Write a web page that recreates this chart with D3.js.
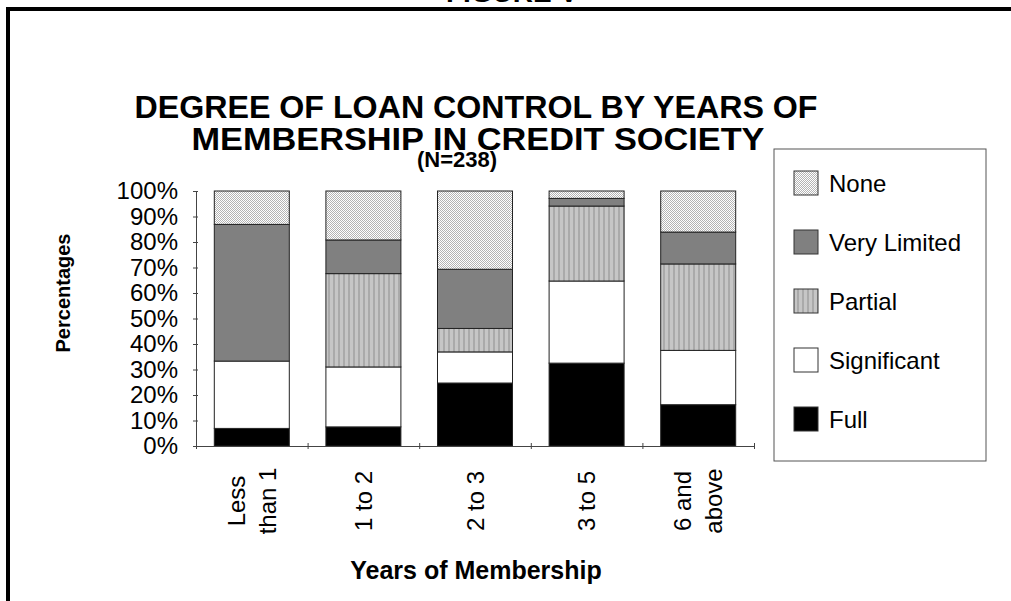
<!DOCTYPE html>
<html>
<head>
<meta charset="utf-8">
<script src="https://cdn.jsdelivr.net/npm/d3@7"></script>
<style>
  body { margin: 0; background: #fff; }
  text { font-family: Arial, "Liberation Sans", sans-serif; }
</style>
</head>
<body>
<svg id="chart" width="1011" height="601"></svg>
<script>

var categories = [["Less", "than 1"], ["1 to 2"], ["2 to 3"], ["3 to 5"], ["6 and", "above"]];
var seriesNames = ["Full", "Significant", "Partial", "Very Limited", "None"];

// percent values, bottom to top
var full        = [6.9, 7.5, 24.7, 32.5, 16.2];
var significant = [26.4, 23.5, 12.2, 32.2, 21.3];
var partial     = [0, 36.6, 9.2, 29.4, 33.9];
var veryLimited = [53.6, 13.2, 23.2, 3.0, 12.5];
var none        = [13.1, 19.2, 30.7, 2.9, 16.1];

var yTicks = [0, 0.1, 0.2, 0.3, 0.4, 0.5, 0.6, 0.7, 0.8, 0.9, 1];

var svg = d3.select("#chart");

// patterns for the grey fills
var defs = svg.append("defs");
var dots = defs.append("pattern")
            .attr("id", "pat-none")
            .attr("width", 2).attr("height", 2)
            .attr("patternUnits", "userSpaceOnUse");
dots.append("rect").attr("width", 2).attr("height", 2).attr("fill", "#fff");
dots.append("rect").attr("x", 0).attr("y", 0).attr("width", 1).attr("height", 1).attr("fill", "#b4b4b4");
dots.append("rect").attr("x", 1).attr("y", 1).attr("width", 1).attr("height", 1).attr("fill", "#b4b4b4");

var stripes = defs.append("pattern")
            .attr("id", "pat-partial")
            .attr("width", 5).attr("height", 4)
            .attr("patternUnits", "userSpaceOnUse");
stripes.append("rect").attr("width", 5).attr("height", 4).attr("fill", "#c6c6c6");
stripes.append("rect").attr("x", 3).attr("width", 2).attr("height", 4).attr("fill", "#aaaaaa");

var fills = {
    "Full": "#000",
    "Significant": "#fff",
    "Partial": "url(#pat-partial)",
    "Very Limited": "#808080",
    "None": "url(#pat-none)"
};

// page frame + clipped heading
svg.append("rect")
    .attr("x", 8).attr("y", 9)
    .attr("width", 1100).attr("height", 700)
    .attr("fill", "none")
    .attr("stroke", "#000")
    .attr("stroke-width", 4);

svg.append("text")
    .attr("x", 512).attr("y", 2)
    .attr("text-anchor", "middle")
    .style("font-size", "28px").style("font-weight", "bold")
    .text("FIGURE V");

// title
svg.append("text")
    .attr("x", 476).attr("y", 118)
    .attr("text-anchor", "middle")
    .attr("textLength", 683).attr("lengthAdjust", "spacingAndGlyphs")
    .style("font-size", "32px").style("font-weight", "bold")
    .text("DEGREE OF LOAN CONTROL BY YEARS OF");
svg.append("text")
    .attr("x", 478).attr("y", 150)
    .attr("text-anchor", "middle")
    .attr("textLength", 573).attr("lengthAdjust", "spacingAndGlyphs")
    .style("font-size", "32px").style("font-weight", "bold")
    .text("MEMBERSHIP IN CREDIT SOCIETY");
svg.append("text")
    .attr("x", 457).attr("y", 167)
    .attr("text-anchor", "middle")
    .style("font-size", "22px").style("font-weight", "bold")
    .text("(N=238)");

var plotLeft = 196, plotRight = 754, plotTop = 191, plotBottom = 446;

var x = d3.scaleBand()
        .domain(d3.range(categories.length))
        .range([plotLeft, plotRight])
        .paddingInner(0.328)
        .paddingOuter(0.164);

var y = d3.scaleLinear()
        .domain([0, 1])
        .range([plotBottom, plotTop]);

var table = categories.map(function (c, i) {
    return {
        i: i,
        "Full": full[i] / 100,
        "Significant": significant[i] / 100,
        "Partial": partial[i] / 100,
        "Very Limited": veryLimited[i] / 100,
        "None": none[i] / 100
    };
});

var stacked = d3.stack().keys(seriesNames)(table);

svg.append("g")
    .selectAll("g")
    .data(stacked)
    .enter().append("g")
        .attr("fill", function (d) { return fills[d.key]; })
    .selectAll("rect")
    .data(function (d) { return d.filter(function (p) { return p[1] - p[0] > 0; }); })
    .enter().append("rect")
        .attr("x", function (d) { return x(d.data.i); })
        .attr("y", function (d) { return y(d[1]); })
        .attr("width", x.bandwidth())
        .attr("height", function (d) { return y(d[0]) - y(d[1]); })
        .attr("stroke", "#222")
        .attr("stroke-width", 1);

// y axis
var yAxis = svg.append("g")
        .attr("transform", "translate(" + plotLeft + ",0)")
        .call(d3.axisLeft(y).tickValues(yTicks).tickFormat(d3.format(".0%")).tickSize(3).tickSizeOuter(0).tickPadding(15));
yAxis.select(".domain").attr("stroke", "#444");
yAxis.selectAll(".tick line").attr("x1", 2).attr("stroke", "#444");
yAxis.selectAll(".tick text")
        .style("font-size", "24px")
        .attr("fill", "#000");

// x axis, ticks sit between the categories
var xEdge = d3.scaleLinear().domain([0, categories.length]).range([plotLeft, plotRight]);
var xAxis = svg.append("g")
        .attr("transform", "translate(0," + plotBottom + ")")
        .call(d3.axisBottom(xEdge).tickValues(d3.range(categories.length + 1)).tickFormat("").tickSize(3).tickSizeOuter(0));
xAxis.select(".domain").attr("stroke", "#444");
xAxis.selectAll(".tick line").attr("y1", -3).attr("stroke", "#444");

var labels = svg.append("g")
        .selectAll("text")
        .data(categories)
        .enter().append("text")
        .attr("transform", function (d, i) {
            return "translate(" + (x(i) + x.bandwidth() / 2) + ",501) rotate(-90)";
        })
        .attr("text-anchor", "middle")
        .style("font-size", "24px");
labels.selectAll("tspan")
        .data(function (d) { return d; })
        .enter().append("tspan")
        .attr("x", 0)
        .attr("y", function (d, j, all) { return all.length === 1 ? 8.5 : (j === 0 ? -7 : 24); })
        .text(function (d) { return d; });

// axis titles
svg.append("text")
    .attr("x", 476).attr("y", 579)
    .attr("text-anchor", "middle")
    .style("font-size", "25px").style("font-weight", "bold")
    .text("Years of Membership");

svg.append("text")
    .attr("transform", "translate(70,293) rotate(-90)")
    .attr("text-anchor", "middle")
    .style("font-size", "20px").style("font-weight", "bold")
    .text("Percentages");

// legend
var legend = svg.append("g");
legend.append("rect")
    .attr("x", 774).attr("y", 149)
    .attr("width", 212).attr("height", 312)
    .attr("fill", "#fff")
    .attr("stroke", "#555");

var legendOrder = seriesNames.slice().reverse();
var rowY = d3.scalePoint().domain(legendOrder).range([183, 419]);

var items = legend.selectAll(".item")
        .data(legendOrder)
        .enter().append("g")
        .attr("class", "item")
        .attr("transform", function (d) { return "translate(794," + rowY(d) + ")"; });
items.append("rect")
    .attr("x", 0).attr("y", -12)
    .attr("width", 24).attr("height", 24)
    .attr("fill", function (d) { return fills[d]; })
    .attr("stroke", "#333");
items.append("text")
    .attr("x", 35).attr("y", 9)
    .style("font-size", "24px")
    .text(function (d) { return d; });

</script>
</body>
</html>
